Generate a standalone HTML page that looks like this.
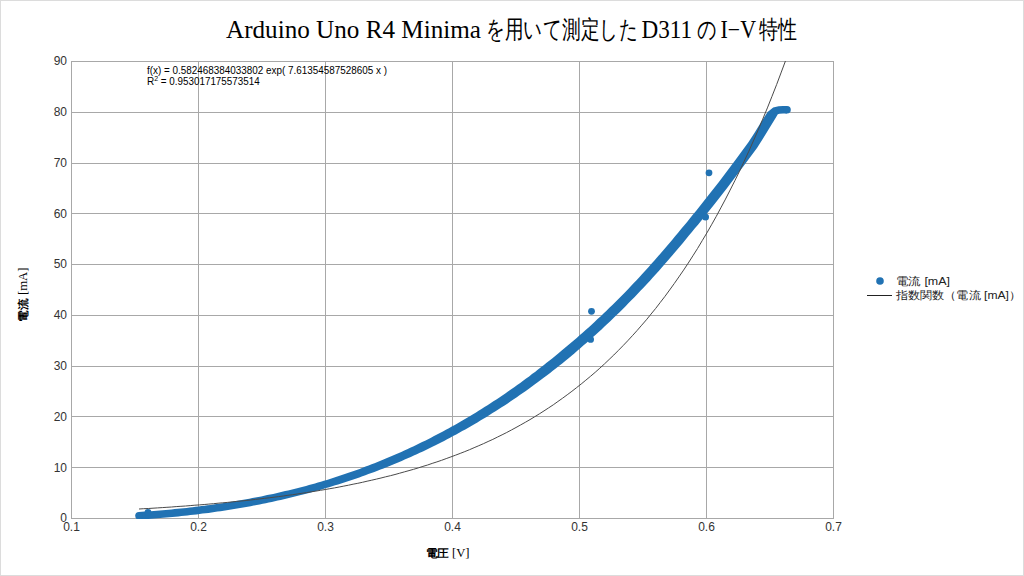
<!DOCTYPE html>
<html><head><meta charset="utf-8"><style>
html,body{margin:0;padding:0;background:#fff;}
svg{display:block;}
text{font-family:"Liberation Sans",sans-serif;}
.serif text{font-family:"Liberation Serif",serif;}
</style></head><body>
<svg width="1024" height="576" viewBox="0 0 1024 576">
<rect x="0.5" y="0.5" width="1023" height="575" fill="#fff" stroke="#dcdcdc" stroke-width="1"/>
<g class="serif" fill="#000" font-size="24.5">
<text x="226" y="38" textLength="255" lengthAdjust="spacingAndGlyphs">Arduino Uno R4 Minima</text>
<text x="485.5" y="38" textLength="152.5" lengthAdjust="spacingAndGlyphs">を用いて測定した</text>
<text x="641.5" y="38" textLength="50.5" lengthAdjust="spacingAndGlyphs">D311</text>
<text x="696.5" y="38" textLength="20" lengthAdjust="spacingAndGlyphs">の</text>
<text x="720.5" y="38" textLength="35.5" lengthAdjust="spacingAndGlyphs">I−V</text>
<text x="758.5" y="38" textLength="38" lengthAdjust="spacingAndGlyphs">特性</text>
</g>
<g stroke="#a8a8a8" stroke-width="1" fill="none"><line x1="198.5" y1="61" x2="198.5" y2="518" /><line x1="325.5" y1="61" x2="325.5" y2="518" /><line x1="452.5" y1="61" x2="452.5" y2="518" /><line x1="579.5" y1="61" x2="579.5" y2="518" /><line x1="706.5" y1="61" x2="706.5" y2="518" /><line x1="71" y1="467.5" x2="833" y2="467.5" /><line x1="71" y1="416.5" x2="833" y2="416.5" /><line x1="71" y1="366.5" x2="833" y2="366.5" /><line x1="71" y1="315.5" x2="833" y2="315.5" /><line x1="71" y1="264.5" x2="833" y2="264.5" /><line x1="71" y1="213.5" x2="833" y2="213.5" /><line x1="71" y1="163.5" x2="833" y2="163.5" /><line x1="71" y1="112.5" x2="833" y2="112.5" />
<rect x="71.5" y="61.5" width="762" height="457"/></g>
<g font-size="12" fill="#333"><text x="67" y="522.3" text-anchor="end">0</text><text x="67" y="471.5" text-anchor="end">10</text><text x="67" y="420.7" text-anchor="end">20</text><text x="67" y="370.0" text-anchor="end">30</text><text x="67" y="319.2" text-anchor="end">40</text><text x="67" y="268.4" text-anchor="end">50</text><text x="67" y="217.6" text-anchor="end">60</text><text x="67" y="166.9" text-anchor="end">70</text><text x="67" y="116.1" text-anchor="end">80</text><text x="67" y="65.3" text-anchor="end">90</text></g>
<g font-size="12" fill="#333"><text x="71.5" y="531" text-anchor="middle">0.1</text><text x="198.5" y="531" text-anchor="middle">0.2</text><text x="325.5" y="531" text-anchor="middle">0.3</text><text x="452.5" y="531" text-anchor="middle">0.4</text><text x="579.5" y="531" text-anchor="middle">0.5</text><text x="706.5" y="531" text-anchor="middle">0.6</text><text x="833.5" y="531" text-anchor="middle">0.7</text></g>
<text x="147" y="74" font-size="10" textLength="240" lengthAdjust="spacingAndGlyphs" fill="#000">f(x) = 0.582468384033802 exp( 7.61354587528605 x )</text>
<text x="147" y="84.5" font-size="10" fill="#000">R<tspan font-size="7" dy="-3.5">2</tspan><tspan dy="3.5" textLength="101.5" lengthAdjust="spacingAndGlyphs"> = 0.953017175573514</tspan></text>
<clipPath id="pc"><rect x="71" y="61" width="763" height="458"/></clipPath>
<g clip-path="url(#pc)" fill="#2172b3">
<path d="M139.3,519.6 L142.3,519.4 L145.3,519.2 L148.3,519.0 L151.3,518.8 L154.3,518.5 L157.3,518.3 L160.3,518.1 L163.3,517.8 L166.3,517.5 L169.3,517.3 L172.4,517.0 L175.4,516.7 L178.4,516.4 L181.4,516.1 L184.4,515.8 L187.4,515.4 L190.4,515.1 L193.4,514.7 L196.5,514.4 L199.5,514.0 L202.5,513.6 L205.5,513.3 L208.5,512.9 L211.5,512.5 L214.5,512.0 L217.5,511.6 L220.6,511.2 L223.6,510.7 L226.6,510.3 L229.6,509.8 L232.6,509.3 L235.6,508.8 L238.6,508.3 L241.7,507.8 L244.7,507.3 L247.7,506.7 L250.7,506.2 L253.7,505.6 L256.7,505.0 L259.7,504.4 L262.8,503.8 L265.8,503.2 L268.8,502.6 L271.8,501.9 L274.8,501.3 L277.8,500.6 L280.8,499.9 L283.9,499.2 L286.9,498.5 L289.9,497.8 L292.9,497.1 L295.9,496.3 L298.9,495.6 L302.0,494.8 L305.0,494.0 L308.0,493.2 L311.0,492.4 L314.0,491.6 L317.0,490.7 L320.1,489.9 L323.1,489.0 L326.1,488.1 L329.1,487.2 L332.1,486.3 L335.1,485.3 L338.2,484.4 L341.2,483.4 L344.2,482.5 L347.2,481.5 L350.3,480.5 L353.3,479.5 L356.3,478.4 L359.3,477.4 L362.4,476.3 L365.4,475.2 L368.4,474.1 L371.4,473.0 L374.4,471.9 L377.5,470.7 L380.5,469.6 L383.5,468.4 L386.5,467.2 L389.6,466.0 L392.6,464.7 L395.6,463.5 L398.7,462.2 L401.7,460.9 L404.7,459.6 L407.7,458.3 L410.8,456.9 L413.8,455.6 L416.8,454.2 L419.8,452.8 L422.9,451.4 L425.9,449.9 L428.9,448.5 L431.9,447.0 L435.0,445.5 L438.0,444.0 L441.0,442.4 L444.1,440.9 L447.1,439.3 L450.1,437.7 L453.1,436.1 L456.2,434.4 L459.2,432.8 L462.2,431.1 L465.3,429.4 L468.3,427.7 L471.3,425.9 L474.3,424.2 L477.4,422.4 L480.4,420.6 L483.4,418.8 L486.5,416.9 L489.5,415.0 L492.5,413.1 L495.5,411.2 L498.6,409.3 L501.6,407.3 L504.6,405.4 L507.7,403.4 L510.7,401.3 L513.7,399.3 L516.8,397.2 L519.8,395.1 L522.8,393.0 L525.8,390.9 L528.9,388.7 L531.9,386.5 L534.9,384.3 L538.0,382.1 L541.0,379.8 L544.0,377.6 L547.1,375.3 L550.1,372.9 L553.1,370.6 L556.1,368.2 L559.2,365.8 L562.2,363.4 L565.2,360.9 L568.3,358.4 L571.3,355.9 L574.3,353.4 L577.3,350.8 L580.3,348.2 L583.3,345.6 L586.4,343.0 L589.4,340.3 L592.4,337.6 L595.4,334.9 L598.4,332.2 L601.5,329.4 L604.5,326.6 L607.5,323.8 L610.5,320.9 L613.5,318.0 L616.6,315.1 L619.6,312.2 L622.6,309.2 L625.6,306.2 L628.6,303.1 L631.6,300.1 L634.7,297.0 L637.7,293.8 L640.7,290.6 L643.7,287.4 L646.7,284.2 L649.8,280.9 L652.8,277.6 L655.8,274.3 L658.8,270.9 L661.8,267.5 L664.8,264.0 L667.9,260.6 L670.9,257.1 L673.9,253.6 L676.9,250.0 L679.9,246.5 L682.9,242.9 L685.9,239.3 L688.9,235.6 L691.9,232.0 L694.9,228.3 L698.0,224.7 L701.0,221.0 L704.0,217.2 L716.0,202.2 L727.1,188.1 L743.6,165.9 L757.0,147.9 L763.5,137.7 L769.6,127.7 L775.6,117.9 L777.8,114.2 L779.5,113.8 L783.1,113.6 L787.0,113.6 L787.0,106.0 L782.9,106.0 L778.5,106.2 L773.2,107.4 L767.6,112.1 L761.0,122.3 L754.9,132.3 L748.6,142.1 L735.4,159.9 L718.9,181.9 L708.0,195.8 L696.0,210.9 L693.0,214.5 L690.0,218.2 L687.1,221.9 L684.1,225.5 L681.1,229.1 L678.1,232.7 L675.1,236.3 L672.1,239.9 L669.1,243.4 L666.1,246.9 L663.1,250.4 L660.1,253.9 L657.2,257.3 L654.2,260.7 L651.2,264.1 L648.2,267.4 L645.2,270.7 L642.2,274.0 L639.3,277.3 L636.3,280.5 L633.3,283.6 L630.3,286.8 L627.3,289.9 L624.4,292.9 L621.4,296.0 L618.4,299.0 L615.4,302.0 L612.4,304.9 L609.4,307.8 L606.5,310.7 L603.5,313.5 L600.5,316.4 L597.5,319.1 L594.5,321.9 L591.6,324.7 L588.6,327.4 L585.6,330.0 L582.6,332.7 L579.6,335.3 L576.7,337.9 L573.7,340.5 L570.7,343.1 L567.7,345.6 L564.7,348.1 L561.7,350.6 L558.8,353.0 L555.8,355.5 L552.8,357.9 L549.9,360.3 L546.9,362.6 L543.9,365.0 L540.9,367.3 L538.0,369.6 L535.0,371.9 L532.0,374.1 L529.1,376.4 L526.1,378.6 L523.1,380.8 L520.2,382.9 L517.2,385.1 L514.2,387.2 L511.2,389.3 L508.3,391.3 L505.3,393.4 L502.3,395.4 L499.4,397.4 L496.4,399.4 L493.4,401.3 L490.5,403.3 L487.5,405.2 L484.5,407.1 L481.5,409.0 L478.6,410.8 L475.6,412.7 L472.6,414.5 L469.7,416.2 L466.7,418.0 L463.7,419.8 L460.7,421.5 L457.8,423.2 L454.8,424.9 L451.8,426.5 L448.9,428.2 L445.9,429.8 L442.9,431.4 L439.9,433.0 L437.0,434.6 L434.0,436.1 L431.0,437.7 L428.1,439.2 L425.1,440.7 L422.1,442.1 L419.1,443.6 L416.2,445.0 L413.2,446.4 L410.2,447.8 L407.2,449.2 L404.3,450.6 L401.3,451.9 L398.3,453.2 L395.3,454.5 L392.4,455.8 L389.4,457.1 L386.4,458.3 L383.5,459.6 L380.5,460.8 L377.5,462.0 L374.5,463.2 L371.6,464.3 L368.6,465.5 L365.6,466.6 L362.6,467.8 L359.6,468.9 L356.7,469.9 L353.7,471.0 L350.7,472.1 L347.7,473.1 L344.8,474.1 L341.8,475.1 L338.8,476.1 L335.8,477.1 L332.9,478.0 L329.9,479.0 L326.9,479.9 L323.9,480.8 L320.9,481.7 L317.9,482.5 L315.0,483.4 L312.0,484.2 L309.0,485.1 L306.0,485.9 L303.0,486.7 L300.0,487.4 L297.1,488.2 L294.1,489.0 L291.1,489.7 L288.1,490.4 L285.1,491.1 L282.1,491.8 L279.2,492.5 L276.2,493.2 L273.2,493.9 L270.2,494.5 L267.2,495.1 L264.2,495.8 L261.2,496.4 L258.3,497.0 L255.3,497.6 L252.3,498.1 L249.3,498.7 L246.3,499.2 L243.3,499.8 L240.3,500.3 L237.4,500.8 L234.4,501.3 L231.4,501.8 L228.4,502.3 L225.4,502.7 L222.4,503.2 L219.4,503.7 L216.5,504.1 L213.5,504.5 L210.5,504.9 L207.5,505.3 L204.5,505.7 L201.5,506.1 L198.5,506.5 L195.5,506.8 L192.6,507.2 L189.6,507.5 L186.6,507.9 L183.6,508.2 L180.6,508.5 L177.6,508.8 L174.6,509.1 L171.6,509.4 L168.7,509.7 L165.7,510.0 L162.7,510.2 L159.7,510.5 L156.7,510.7 L153.7,511.0 L150.7,511.2 L147.7,511.4 L144.7,511.6 L141.7,511.8 L138.7,512.0Z"/><circle cx="139.0" cy="515.8" r="3.8"/><circle cx="787.0" cy="109.8" r="3.8"/>
<circle cx="148" cy="512.5" r="3.4"/>
<circle cx="591.5" cy="311.3" r="3.4"/>
<circle cx="590.6" cy="339.4" r="3.4"/>
<circle cx="709" cy="172.8" r="3.4"/>
<circle cx="705.5" cy="217" r="3.5"/>
</g>
<path d="M139.0,509.0 L143.7,508.7 L148.3,508.5 L153.0,508.2 L157.6,507.9 L162.3,507.6 L166.9,507.3 L171.6,507.0 L176.2,506.6 L180.9,506.3 L185.5,506.0 L190.2,505.6 L194.9,505.2 L199.5,504.9 L204.2,504.5 L208.8,504.1 L213.5,503.7 L218.1,503.2 L222.8,502.8 L227.4,502.4 L232.1,501.9 L236.7,501.4 L241.4,501.0 L246.1,500.5 L250.7,500.0 L255.4,499.4 L260.0,498.9 L264.7,498.3 L269.3,497.8 L274.0,497.2 L278.6,496.6 L283.3,496.0 L287.9,495.3 L292.6,494.7 L297.3,494.0 L301.9,493.3 L306.6,492.6 L311.2,491.8 L315.9,491.1 L320.5,490.3 L325.2,489.5 L329.8,488.7 L334.5,487.9 L339.2,487.0 L343.8,486.1 L348.5,485.2 L353.1,484.2 L357.8,483.3 L362.4,482.3 L367.1,481.2 L371.7,480.2 L376.4,479.1 L381.0,478.0 L385.7,476.8 L390.4,475.7 L395.0,474.5 L399.7,473.2 L404.3,471.9 L409.0,470.6 L413.6,469.3 L418.3,467.9 L422.9,466.4 L427.6,465.0 L432.2,463.4 L436.9,461.9 L441.6,460.3 L446.2,458.6 L450.9,456.9 L455.5,455.2 L460.2,453.4 L464.8,451.6 L469.5,449.7 L474.1,447.7 L478.8,445.7 L483.4,443.7 L488.1,441.5 L492.8,439.4 L497.4,437.1 L502.1,434.8 L506.7,432.5 L511.4,430.0 L516.0,427.5 L520.7,424.9 L525.3,422.3 L530.0,419.6 L534.6,416.8 L539.3,413.9 L544.0,410.9 L548.6,407.9 L553.3,404.8 L557.9,401.5 L562.6,398.2 L567.2,394.8 L571.9,391.3 L576.5,387.7 L581.2,384.0 L585.8,380.2 L590.5,376.3 L595.2,372.3 L599.8,368.2 L604.5,363.9 L609.1,359.5 L613.8,355.0 L618.4,350.4 L623.1,345.6 L627.7,340.8 L632.4,335.7 L637.1,330.5 L641.7,325.2 L646.4,319.8 L651.0,314.1 L655.7,308.4 L660.3,302.4 L665.0,296.3 L669.6,290.0 L674.3,283.5 L678.9,276.9 L683.6,270.1 L688.3,263.0 L692.9,255.8 L697.6,248.4 L702.2,240.7 L706.9,232.9 L711.5,224.8 L716.2,216.5 L720.8,207.9 L725.5,199.1 L730.1,190.1 L734.8,180.8 L739.5,171.2 L744.1,161.4 L748.8,151.3 L753.4,140.9 L758.1,130.2 L762.7,119.2 L767.4,107.9 L772.0,96.3 L776.7,84.4 L781.3,72.1 L786.0,59.5" stroke="#4a4a4a" stroke-width="1" fill="none" clip-path="url(#pc)"/>
<text transform="translate(26.8,294.5) rotate(-90)" font-size="11" text-anchor="middle" textLength="54" lengthAdjust="spacingAndGlyphs" fill="#000"><tspan font-weight="bold">電流</tspan> <tspan style='font-family:"Liberation Serif",serif' font-size="12">[mA]</tspan></text>
<text x="447.5" y="557" font-size="11" text-anchor="middle" textLength="44" lengthAdjust="spacingAndGlyphs" fill="#000"><tspan font-weight="bold">電圧</tspan> <tspan style='font-family:"Liberation Serif",serif' font-size="12">[V]</tspan></text>
<circle cx="880" cy="281" r="3.8" fill="#2172b3"/>
<text x="896" y="285" font-size="11" textLength="54" lengthAdjust="spacingAndGlyphs" fill="#222">電流 [mA]</text>
<line x1="867" y1="295.5" x2="892" y2="295.5" stroke="#222" stroke-width="1"/>
<text x="896" y="299" font-size="11" textLength="125" lengthAdjust="spacingAndGlyphs" fill="#222">指数関数（電流 [mA]）</text>
</svg>
</body></html>
